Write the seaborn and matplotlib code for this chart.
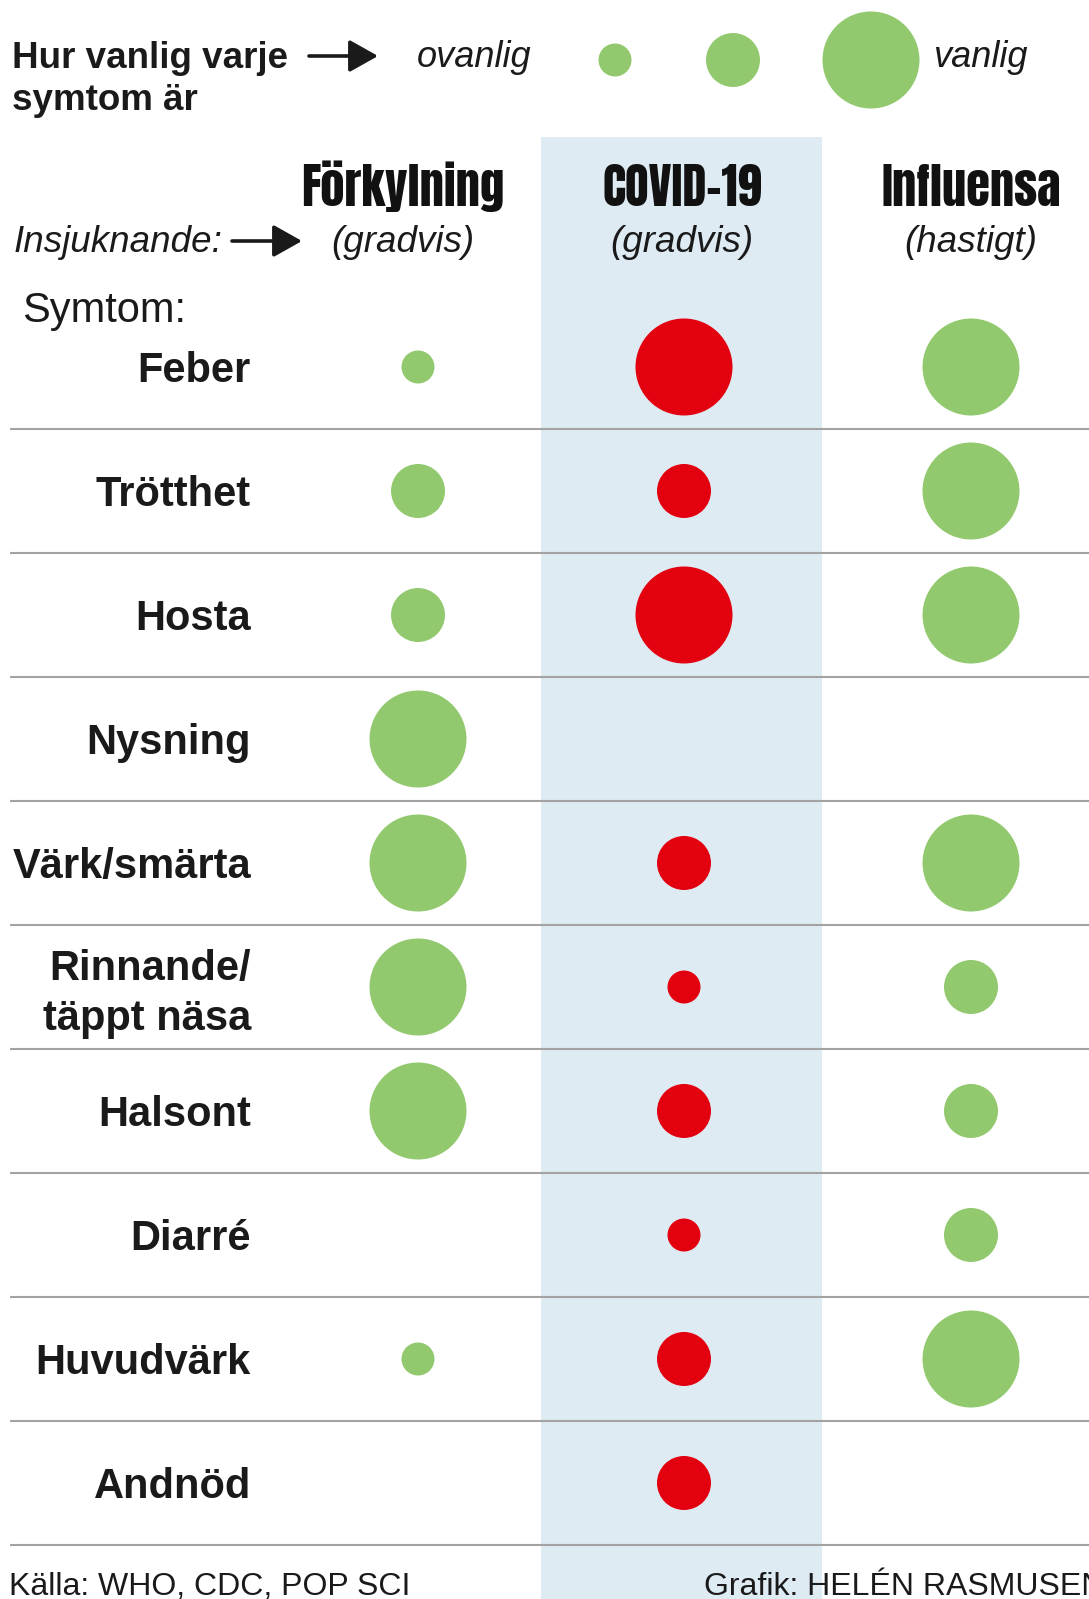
import numpy as np
import pandas as pd
import matplotlib
matplotlib.use("Agg")
import matplotlib.pyplot as plt
import seaborn as sns
from matplotlib import font_manager, patheffects, transforms

# ---------------- data ----------------
symptoms = ["Feber", "Trötthet", "Hosta", "Nysning", "Värk/smärta",
            "Rinnande/\ntäppt näsa", "Halsont", "Diarré", "Huvudvärk", "Andnöd"]
diseases = ["Förkylning", "COVID-19", "Influensa"]
onset = ["(gradvis)", "(gradvis)", "(hastigt)"]
# 0 = saknas, 1 = ovanlig, 2 = ibland, 3 = vanlig
forkylning = [1, 2, 2, 3, 3, 3, 3, 0, 1, 0]
covid19 = [3, 2, 3, 0, 2, 1, 2, 1, 2, 2]
influensa = [3, 3, 3, 0, 3, 2, 2, 2, 3, 0]
legend_levels = [1, 2, 3]
legend_title = ["Hur vanlig varje", "symtom är"]
legend_low, legend_high = "ovanlig", "vanlig"
source_text = "Källa: WHO, CDC, POP SCI"
credit_text = "Grafik: HELÉN RASMUSEN"

# ---------------- style / layout ----------------
W, H, DPI = 1089, 1599, 100
GREEN = "#92c96e"
RED = "#e3000f"
BAND = "#deebf3"
GRID = "#a3a3a3"
TEXT = "#1a1a1a"
SIZE_PX = {1: 33, 2: 54, 3: 97}
SIZES = {k: (v * 72 / DPI) ** 2 for k, v in SIZE_PX.items()}
COL_X = {"Förkylning": 418, "COVID-19": 684, "Influensa": 971}
HEAD_X = [403, 682, 971]
LEG_X = [615, 733, 871]
ROW0, STEP = 367, 124

sns.set_theme(style="white")
names = {f.name for f in font_manager.fontManager.ttflist}
BASE = "Liberation Sans" if "Liberation Sans" in names else "DejaVu Sans"
plt.rcParams["font.family"] = [BASE, "DejaVu Sans"]

# heavy condensed face for the column headers
HEAD_FP, HEAD_HEAVY = None, True
for fam, wt in [("Anton", "normal"), ("Barlow Condensed", 900),
                ("Asap Condensed", 900), ("Oswald", "bold")]:
    if fam in names:
        HEAD_FP = font_manager.FontProperties(family=fam, weight=wt)
        break
if HEAD_FP is None:
    HEAD_FP = font_manager.FontProperties(family=BASE, weight="bold")
    HEAD_HEAVY = False

fig = plt.figure(figsize=(W / DPI, H / DPI), dpi=DPI)
fig.patch.set_facecolor("white")

# background / text axes in pixel units
bg = fig.add_axes([0, 0, 1, 1])
bg.set_xlim(0, W)
bg.set_ylim(H, 0)
bg.axis("off")
bg.axvspan(541, 822, ymin=0, ymax=1 - 137 / H, color=BAND, lw=0, zorder=0)

# data axes: x in pixels, y in row index
ax = fig.add_axes([0, 0, 1, 1], facecolor="none")

rows = []
for d, vals in zip(diseases, [forkylning, covid19, influensa]):
    for i, (s, v) in enumerate(zip(symptoms, vals)):
        if v > 0:
            rows.append({"symptom": s, "row": i, "disease": d, "level": v})
df = pd.DataFrame(rows)
df["x"] = df["disease"].map(COL_X)

sns.scatterplot(data=df, x="x", y="row", hue="disease",
                palette={"Förkylning": GREEN, "COVID-19": RED, "Influensa": GREEN},
                size="level", sizes=SIZES, linewidth=0, legend=False, ax=ax, zorder=3)

for i in range(len(symptoms)):
    ax.plot([10, W], [i + 0.5, i + 0.5], color=GRID, lw=1.5, zorder=2,
            solid_capstyle="butt")

ax.set_xlim(0, W)
ax.set_ylim((H - ROW0) / STEP, -ROW0 / STEP)
ax.axis("off")

# row labels (baseline placed relative to row centre)
for i, lab in enumerate(symptoms):
    lines = lab.split("\n")
    offs = [15] if len(lines) == 1 else [-7, 43]
    for ln, o in zip(lines, offs):
        tr = ax.transData + transforms.ScaledTranslation(0, -o / DPI, fig.dpi_scale_trans)
        ax.text(251, i, ln, transform=tr, ha="right", va="baseline",
                fontsize=30, fontweight="bold", color=TEXT)

# legend circles
leg = pd.DataFrame({"level": legend_levels, "x": LEG_X, "y": [60] * 3})
sns.scatterplot(data=leg, x="x", y="y", size="level", sizes=SIZES, color=GREEN,
                linewidth=0, legend=False, ax=bg, zorder=3)
bg.set_xlim(0, W)
bg.set_ylim(H, 0)
bg.axis("off")

bg.text(12, 68, legend_title[0], fontsize=26.5, fontweight="bold", color=TEXT,
        ha="left", va="baseline")
bg.text(12, 110, legend_title[1], fontsize=26.5, fontweight="bold", color=TEXT,
        ha="left", va="baseline")
bg.text(417, 67, legend_low, fontsize=26, fontstyle="italic", color=TEXT,
        ha="left", va="baseline")
bg.text(933, 67, legend_high, fontsize=26, fontstyle="italic", color=TEXT,
        ha="left", va="baseline")

arrow = dict(arrowstyle="-|>,head_length=0.8,head_width=0.45", mutation_scale=22,
             lw=2.6, color=TEXT, shrinkA=0, shrinkB=0)
bg.annotate("", xy=(378, 56), xytext=(309, 56), arrowprops=arrow)
bg.annotate("", xy=(302, 241), xytext=(232, 241), arrowprops=arrow)

# column headers, font size fitted to the reference width of "Förkylning"
renderer = fig.canvas.get_renderer()
probe = bg.text(0, 0, diseases[0], fontproperties=HEAD_FP, fontsize=40)
wpx = probe.get_window_extent(renderer).width
probe.remove()
head_size = 40 * 203 / wpx
effects = [] if HEAD_HEAVY else [patheffects.withStroke(linewidth=1.6, foreground="#111111")]
for hx, d, o in zip(HEAD_X, diseases, onset):
    bg.text(hx, 206, d, fontproperties=HEAD_FP, fontsize=head_size,
            color="#111111", ha="center", va="baseline", path_effects=effects)
    bg.text(hx, 252, o, fontsize=26.5, fontstyle="italic", color=TEXT,
            ha="center", va="baseline")

bg.text(14, 252, "Insjuknande:", fontsize=26.5, fontstyle="italic", color=TEXT,
        ha="left", va="baseline")
bg.text(22, 322, "Symtom:", fontsize=30, color=TEXT, ha="left", va="baseline")

# footer
bg.text(9, 1595, source_text, fontsize=23, color=TEXT, ha="left", va="baseline")
bg.text(704, 1595, credit_text, fontsize=23, color=TEXT, ha="left", va="baseline")

fig.savefig("out.png", dpi=DPI, facecolor="white")
